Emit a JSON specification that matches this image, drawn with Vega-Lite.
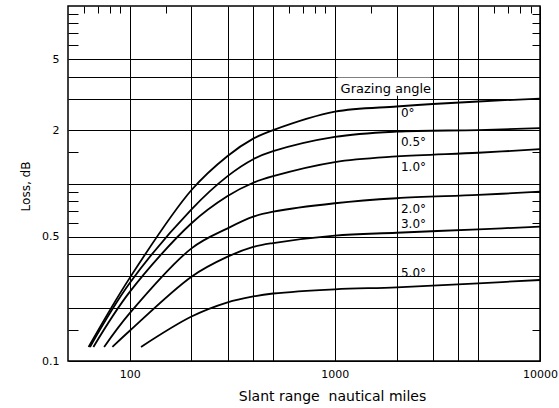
{
  "$schema": "https://vega.github.io/schema/vega-lite/v6.json",
  "width": 472,
  "height": 355,
  "autosize": {"type": "none"},
  "padding": {"left": 68, "top": 6, "right": 19, "bottom": 47},
  "background": "white",
  "config": {
    "view": {"stroke": "black", "strokeWidth": 1.5},
    "font": "DejaVu Sans",
    "axis": {
      "domain": false,
      "gridColor": "black",
      "gridWidth": 1,
      "gridOpacity": 1,
      "tickColor": "black",
      "tickWidth": 1,
      "labelColor": "black",
      "labelFont": "DejaVu Sans",
      "labelFontSize": 11,
      "titleFont": "DejaVu Sans",
      "titleFontSize": 12,
      "titleFontWeight": "normal",
      "titleColor": "black"
    }
  },
  "datasets": {
    "box": [{"x1": 1030, "x2": 2950, "y1": 3.12, "y2": 3.95}],
    "curves": [
      {"angle": "0", "range": 63, "loss": 0.12},
      {"angle": "0", "range": 100, "loss": 0.294},
      {"angle": "0", "range": 200, "loss": 0.919},
      {"angle": "0", "range": 300, "loss": 1.43},
      {"angle": "0", "range": 400, "loss": 1.79},
      {"angle": "0", "range": 500, "loss": 2.0},
      {"angle": "0", "range": 1000, "loss": 2.54},
      {"angle": "0", "range": 2000, "loss": 2.715},
      {"angle": "0", "range": 3000, "loss": 2.805},
      {"angle": "0", "range": 5000, "loss": 2.897},
      {"angle": "0", "range": 10000, "loss": 3.01},
      {"angle": "0.5", "range": 64, "loss": 0.12},
      {"angle": "0.5", "range": 100, "loss": 0.275},
      {"angle": "0.5", "range": 200, "loss": 0.715},
      {"angle": "0.5", "range": 300, "loss": 1.1},
      {"angle": "0.5", "range": 400, "loss": 1.37},
      {"angle": "0.5", "range": 500, "loss": 1.52},
      {"angle": "0.5", "range": 1000, "loss": 1.83},
      {"angle": "0.5", "range": 2000, "loss": 1.96},
      {"angle": "0.5", "range": 5000, "loss": 2.0},
      {"angle": "0.5", "range": 10000, "loss": 2.05},
      {"angle": "1.0", "range": 66.5, "loss": 0.12},
      {"angle": "1.0", "range": 100, "loss": 0.245},
      {"angle": "1.0", "range": 200, "loss": 0.597},
      {"angle": "1.0", "range": 300, "loss": 0.85},
      {"angle": "1.0", "range": 400, "loss": 1.01},
      {"angle": "1.0", "range": 500, "loss": 1.1},
      {"angle": "1.0", "range": 1000, "loss": 1.32},
      {"angle": "1.0", "range": 2000, "loss": 1.42},
      {"angle": "1.0", "range": 5000, "loss": 1.49},
      {"angle": "1.0", "range": 10000, "loss": 1.56},
      {"angle": "2.0", "range": 75, "loss": 0.12},
      {"angle": "2.0", "range": 100, "loss": 0.186},
      {"angle": "2.0", "range": 200, "loss": 0.431},
      {"angle": "2.0", "range": 300, "loss": 0.559},
      {"angle": "2.0", "range": 400, "loss": 0.65},
      {"angle": "2.0", "range": 500, "loss": 0.694},
      {"angle": "2.0", "range": 1000, "loss": 0.774},
      {"angle": "2.0", "range": 2000, "loss": 0.826},
      {"angle": "2.0", "range": 5000, "loss": 0.862},
      {"angle": "2.0", "range": 10000, "loss": 0.9},
      {"angle": "3.0", "range": 82.3, "loss": 0.12},
      {"angle": "3.0", "range": 100, "loss": 0.148},
      {"angle": "3.0", "range": 200, "loss": 0.2985},
      {"angle": "3.0", "range": 300, "loss": 0.387},
      {"angle": "3.0", "range": 400, "loss": 0.439},
      {"angle": "3.0", "range": 500, "loss": 0.462},
      {"angle": "3.0", "range": 1000, "loss": 0.509},
      {"angle": "3.0", "range": 2000, "loss": 0.528},
      {"angle": "3.0", "range": 5000, "loss": 0.552},
      {"angle": "3.0", "range": 10000, "loss": 0.571},
      {"angle": "5.0", "range": 113.5, "loss": 0.12},
      {"angle": "5.0", "range": 200, "loss": 0.178},
      {"angle": "5.0", "range": 300, "loss": 0.214},
      {"angle": "5.0", "range": 400, "loss": 0.231},
      {"angle": "5.0", "range": 500, "loss": 0.24},
      {"angle": "5.0", "range": 1000, "loss": 0.2535},
      {"angle": "5.0", "range": 2000, "loss": 0.26},
      {"angle": "5.0", "range": 5000, "loss": 0.274},
      {"angle": "5.0", "range": 10000, "loss": 0.286}
    ],
    "labels": [
      {"label": "Grazing angle", "x": 1066, "y": 3.41},
      {"label": "0°", "x": 2100, "y": 2.49},
      {"label": "0.5°", "x": 2100, "y": 1.72},
      {"label": "1.0°", "x": 2100, "y": 1.234},
      {"label": "2.0°", "x": 2100, "y": 0.716},
      {"label": "3.0°", "x": 2100, "y": 0.59},
      {"label": "5.0°", "x": 2100, "y": 0.312}
    ]
  },
  "layer": [
    {
      "data": {"name": "box"},
      "mark": {"type": "rect", "fill": "white"},
      "encoding": {
        "x": {"field": "x1", "type": "quantitative", "scale": {"type": "log", "domain": [50, 10000], "nice": false}, "axis": null},
        "x2": {"field": "x2"},
        "y": {"field": "y1", "type": "quantitative", "scale": {"type": "log", "domain": [0.1, 10], "nice": false},
          "axis": {"orient": "left", "values": [0.15, 0.6, 0.7, 0.8, 0.9, 1.5, 6, 7, 8, 9], "grid": false, "labels": false, "ticks": true, "tickSize": -10, "title": null}},
        "y2": {"field": "y2"}
      }
    },
    {
      "data": {"name": "curves"},
      "mark": {"type": "line", "interpolate": "catmull-rom", "color": "black", "strokeWidth": 1.8},
      "encoding": {
        "x": {"field": "range", "type": "quantitative", "scale": {"type": "log", "domain": [50, 10000], "nice": false},
          "axis": {"orient": "bottom", "values": [100, 200, 300, 400, 500, 1000, 2000, 3000, 4000, 5000, 10000], "grid": true, "ticks": false,
            "labelExpr": "datum.value==100||datum.value==1000||datum.value==10000 ? format(datum.value,'d') : ''",
            "labelPadding": 7, "labelFlush": false, "labelOverlap": false,
            "title": "Slant range\u00a0 nautical miles", "titleFontSize": 14, "titleX": 264, "titleY": 35, "titleAlign": "center", "titleBaseline": "middle"}},
        "y": {"field": "loss", "type": "quantitative", "scale": {"type": "log", "domain": [0.1, 10], "nice": false},
          "axis": {"orient": "left", "values": [0.1, 0.2, 0.3, 0.4, 0.5, 1, 2, 3, 4, 5], "grid": true, "ticks": false,
            "labelExpr": "datum.value==0.1||datum.value==0.5||datum.value==2||datum.value==5 ? ''+datum.value : ''",
            "labelPadding": 9, "labelOverlap": false, "labelFlush": false,
            "title": "Loss, dB", "titleX": -43, "titleY": 180, "titleAngle": -90, "titleAlign": "center", "titleBaseline": "middle"}},
        "detail": {"field": "angle", "type": "nominal"}
      }
    },
    {
      "data": {"name": "labels"},
      "mark": {"type": "text", "align": "left", "baseline": "middle", "fontSize": 12, "font": "DejaVu Sans", "color": "black"},
      "encoding": {
        "x": {"field": "x", "type": "quantitative", "scale": {"type": "log", "domain": [50, 10000], "nice": false},
          "axis": {"orient": "top", "values": [60, 70, 80, 90, 150, 600, 700, 800, 900, 1500, 6000, 7000, 8000, 9000], "grid": false, "labels": false, "ticks": true, "tickSize": -7, "title": null}},
        "y": {"field": "y", "type": "quantitative", "scale": {"type": "log", "domain": [0.1, 10], "nice": false},
          "axis": {"orient": "right", "values": [0.15, 0.6, 0.7, 0.8, 0.9, 1.5, 6, 7, 8, 9], "grid": false, "labels": false, "ticks": true, "tickSize": -8, "title": null}},
        "text": {"field": "label"},
        "size": {"condition": {"test": "datum.label == 'Grazing angle'", "value": 13}, "value": 12}
      }
    }
  ],
  "resolve": {"axis": {"x": "independent", "y": "independent"}}
}
